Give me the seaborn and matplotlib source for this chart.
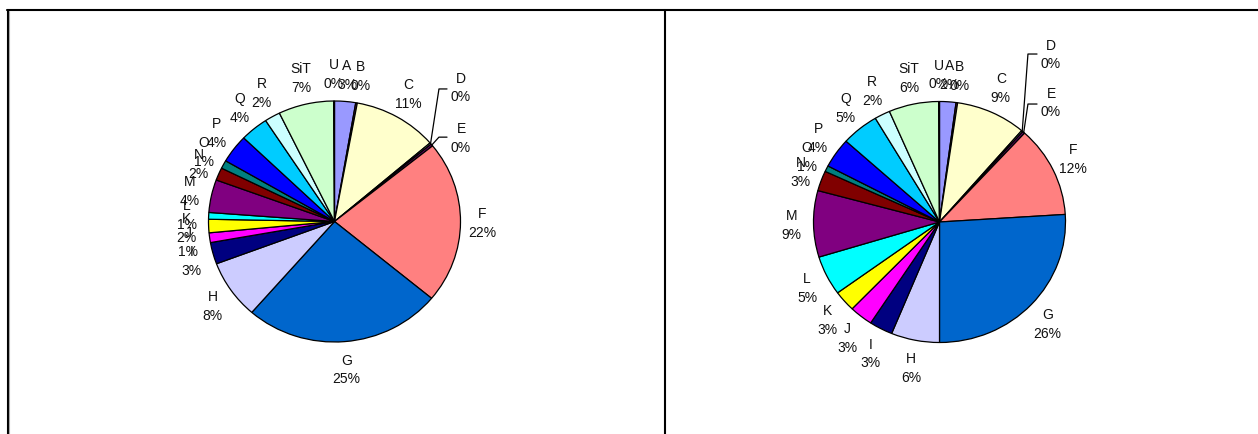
import numpy as np
import matplotlib
matplotlib.use("Agg")
import matplotlib.pyplot as plt
from matplotlib.lines import Line2D
import seaborn as sns

# ---- data ----
categories = ["A", "B", "C", "D", "E", "F", "G", "H", "I", "J", "K",
              "L", "M", "N", "O", "P", "Q", "R", "SiT", "U"]
left_values = [2.7, 0.2, 10.8, 0.2, 0.3, 21.8, 25.4, 7.9, 2.9, 1.3, 1.8,
               0.9, 4.4, 1.7, 1.1, 3.8, 3.6, 2.0, 7.1, 0.1]
right_values = [2.1, 0.2, 9.0, 0.2, 0.3, 12.2, 26.0, 6.2, 3.0, 3.0, 2.8,
                5.3, 8.9, 2.7, 0.8, 4.0, 4.8, 2.0, 6.4, 0.1]
slice_colors = ["#9999FF", "#993366", "#FFFFCC", "#CCFFFF", "#660066",
                "#FF8080", "#0066CC", "#CCCCFF", "#000080", "#FF00FF",
                "#FFFF00", "#00FFFF", "#800080", "#800000", "#008080",
                "#0000FF", "#00CCFF", "#CCFFFF", "#CCFFCC", "#FFFF99"]

sns.set_theme(style="white")
plt.rcParams["font.family"] = ["Liberation Sans", "DejaVu Sans"]

W, H = 1258, 435
fig = plt.figure(figsize=(W / 100, H / 100), dpi=100)
fig.patch.set_facecolor("white")

RX, RY = 126.0, 120.5
LIM = 1.7
LABEL_R = 148.0  # px

# leader-label positions (data units relative to pie center) for D and E
leader_specs = {
    "left": {"D": ((1.004, 1.116), (0.829, 1.10), 0.893),
             "E": ((1.004, 0.701), (0.829, 0.70), 0.893)},
    "right": {"D": ((0.885, 1.394), (0.702, 1.394), 0.774),
              "E": ((0.885, 0.996), (0.702, 0.979), 0.774)},
}


def draw_pie(values, cx, cy_top, side):
    cy = H - cy_top
    ax = fig.add_axes([(cx - LIM * RX) / W, (cy - LIM * RY) / H,
                       2 * LIM * RX / W, 2 * LIM * RY / H])
    ax.pie(values, colors=slice_colors, startangle=90, counterclock=False,
           wedgeprops=dict(edgecolor="black", linewidth=0.9))
    ax.set_aspect("auto")
    ax.set_xlim(-LIM, LIM)
    ax.set_ylim(-LIM, LIM)
    ax.axis("off")
    total = sum(values)
    cum = np.cumsum([0] + list(values))
    for i, (cat, v) in enumerate(zip(categories, values)):
        mid = (cum[i] + v / 2) / total * 360.0  # clockwise from top
        th = np.deg2rad(mid)
        txt = f"{cat}\n{int(round(v / total * 100))}%"
        if cat in leader_specs[side]:
            (lx, ly), (ex, ey), endx = leader_specs[side][cat]
            sx, sy = np.sin(th), np.cos(th)
            ax.plot([sx, ex, endx], [sy, ey, ey], color="black", lw=0.9,
                    clip_on=False)
            ax.text(lx, ly, txt, ha="center", va="center", fontsize=10,
                    color="#111111", linespacing=1.45)
        else:
            lx = LABEL_R / RX * np.sin(th)
            ly = LABEL_R / RY * np.cos(th)
            ax.text(lx, ly, txt, ha="center", va="center", fontsize=10,
                    color="#111111", linespacing=1.45)
    return ax


draw_pie(left_values, 334.5, 222.5, "left")
draw_pie(right_values, 939.5, 223.0, "right")

# panel frames
def fy(py):
    return 1 - py / H

def fx(px):
    return px / W

fig.add_artist(Line2D([fx(7), fx(1258)], [fy(11), fy(11)], color="black", lw=1.5))
fig.add_artist(Line2D([fx(7.5), fx(7.5)], [fy(11), fy(435)], color="black", lw=1.5))
fig.add_artist(Line2D([fx(9), fx(9)], [fy(12), fy(435)], color="#AAAAAA", lw=0.8))
fig.add_artist(Line2D([fx(664.5), fx(664.5)], [fy(11), fy(435)], color="black", lw=1.5))

fig.savefig("out.png", dpi=100, facecolor="white")
